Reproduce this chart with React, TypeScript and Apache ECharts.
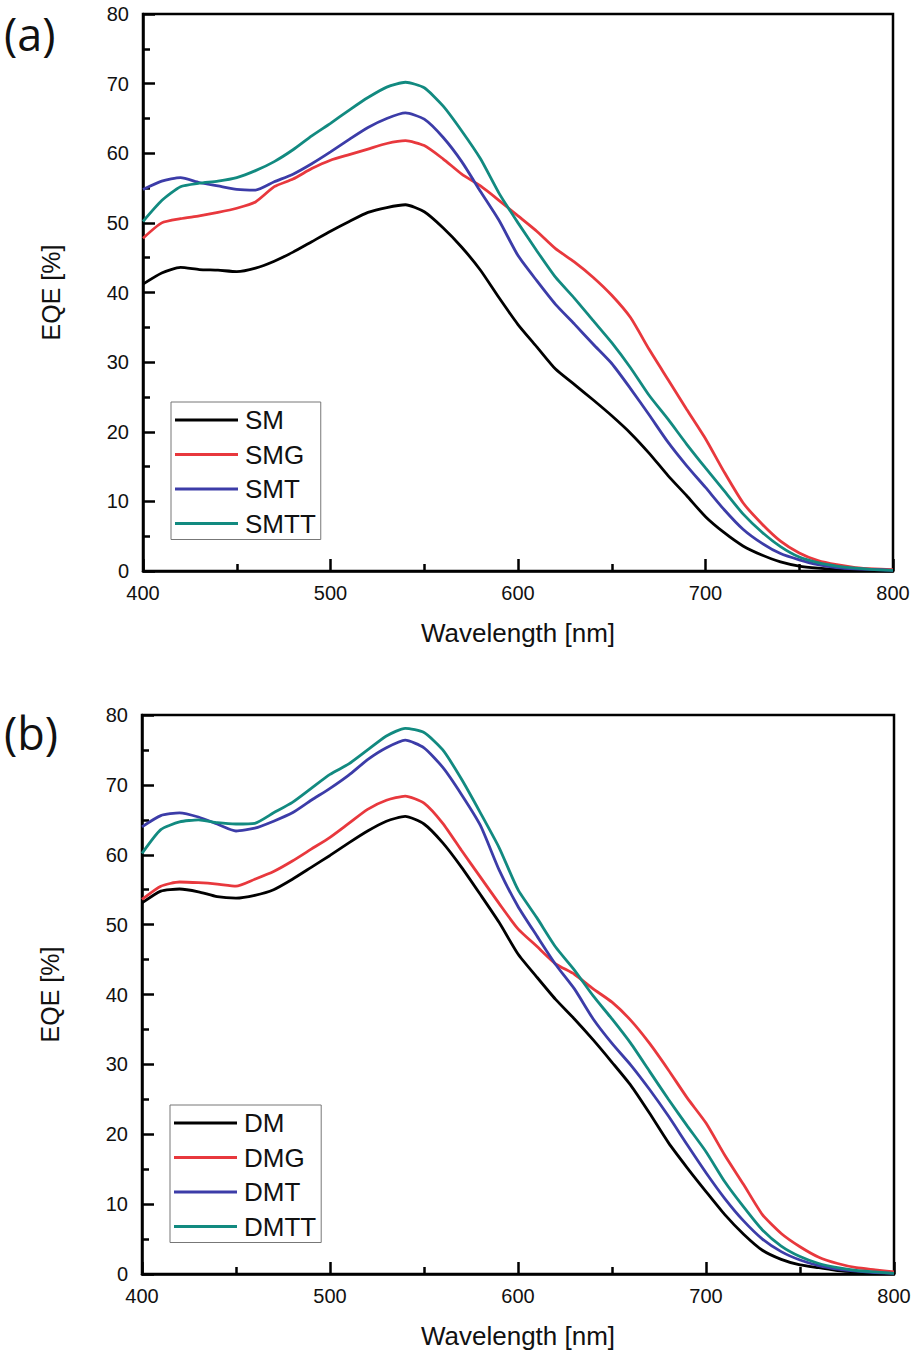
import React, { useEffect, useRef } from "react";
import * as echarts from "echarts";

const wavelengths = [400,410,420,430,440,450,460,470,480,490,500,510,520,530,540,550,560,570,580,590,600,610,620,630,640,650,660,670,680,690,700,710,720,730,740,750,760,770,780,790,800];

const SM = [41.2,42.8,43.6,43.3,43.2,43.0,43.5,44.5,45.8,47.3,48.8,50.2,51.5,52.2,52.6,51.6,49.3,46.5,43.2,39.2,35.4,32.2,29.0,26.8,24.6,22.3,19.8,16.9,13.7,10.8,7.8,5.5,3.6,2.3,1.3,0.7,0.4,0.2,0.1,0.05,0];
const SMG = [47.8,50.0,50.6,51.0,51.5,52.1,53.0,55.2,56.3,57.8,59.0,59.8,60.6,61.4,61.8,61.1,59.2,57.0,55.3,53.2,51.0,48.8,46.3,44.4,42.2,39.6,36.4,31.8,27.5,23.2,19.0,14.2,9.8,6.8,4.3,2.6,1.5,0.9,0.5,0.3,0.2];
const SMT = [54.8,56.0,56.5,55.8,55.3,54.8,54.7,55.9,57.0,58.5,60.2,62.0,63.7,65.0,65.8,64.9,62.3,58.8,54.5,50.3,45.3,41.7,38.3,35.5,32.6,29.8,26.2,22.4,18.5,15.1,12.0,8.8,6.0,4.0,2.5,1.6,0.9,0.5,0.3,0.2,0.1];
const SMTT = [50.2,53.2,55.2,55.7,56.0,56.5,57.5,58.8,60.5,62.5,64.3,66.2,68.0,69.5,70.2,69.4,66.8,63.2,59.2,54.2,50.0,46.0,42.2,39.2,36.0,32.8,29.2,25.2,21.8,18.2,14.8,11.5,8.2,5.6,3.5,2.0,1.2,0.7,0.4,0.2,0.1];

const DM = [53.1,54.8,55.1,54.7,54.0,53.8,54.2,55.0,56.5,58.2,59.9,61.7,63.4,64.8,65.5,64.4,61.7,58.2,54.3,50.3,45.8,42.5,39.3,36.5,33.5,30.3,27.0,23.0,18.8,15.2,11.8,8.5,5.7,3.4,2.1,1.3,0.9,0.5,0.3,0.2,0.1];
const DMG = [53.6,55.5,56.1,56.0,55.8,55.5,56.5,57.6,59.1,60.8,62.5,64.5,66.5,67.8,68.4,67.4,64.5,60.6,56.8,53.0,49.4,46.9,44.4,42.9,40.8,38.9,36.3,33.0,29.2,25.2,21.6,17.0,12.8,8.5,5.8,3.9,2.4,1.5,0.9,0.6,0.3];
const DMT = [64.0,65.6,66.0,65.4,64.4,63.4,63.8,64.8,66.0,67.8,69.5,71.4,73.6,75.3,76.4,75.3,72.5,68.6,64.2,57.8,52.6,48.4,44.3,40.8,36.5,33.0,29.9,26.4,22.6,18.5,14.5,10.8,7.6,5.0,3.2,2.0,1.2,0.7,0.4,0.2,0.1];
const DMTT = [60.2,63.6,64.7,65.0,64.6,64.4,64.5,66.0,67.5,69.5,71.5,73.0,75.0,77.0,78.1,77.5,75.0,70.8,66.0,61.0,55.0,51.0,46.8,43.5,39.8,36.5,33.0,29.0,25.0,21.2,17.5,13.2,9.6,6.3,4.0,2.5,1.5,0.9,0.5,0.3,0.1];

const topNames = ["SM", "SMG", "SMT", "SMTT"];
const bottomNames = ["DM", "DMG", "DMT", "DMTT"];
const colors = ["#000000", "#e8383d", "#3c3ca8", "#128a80"];
const panelLabels = ["(a)", "(b)"];
const xName = "Wavelength [nm]";
const yName = "EQE [%]";

const FONT = "'Liberation Sans', Arial, sans-serif";

function xAxisOpt(gridIndex: number) {
  return {
    type: "value",
    gridIndex,
    min: 400,
    max: 800,
    interval: 100,
    name: xName,
    nameLocation: "middle",
    nameGap: 49,
    nameTextStyle: { fontFamily: FONT, fontSize: 26, color: "#111" },
    axisLine: { show: true, lineStyle: { color: "#000", width: 2.5 } },
    axisTick: { show: true, inside: true, length: 12, lineStyle: { color: "#000", width: 2.5 } },
    minorTick: { show: true, splitNumber: 2, length: 7, lineStyle: { color: "#000", width: 2.5 } },
    axisLabel: { fontFamily: FONT, fontSize: 20, color: "#111", margin: 12 },
    splitLine: { show: false },
  };
}

function yAxisOpt(gridIndex: number) {
  return {
    type: "value",
    gridIndex,
    min: 0,
    max: 80,
    interval: 10,
    name: yName,
    nameLocation: "middle",
    nameGap: 80,
    nameTextStyle: { fontFamily: FONT, fontSize: 25, color: "#111" },
    axisLine: { show: true, lineStyle: { color: "#000", width: 2.5 } },
    axisTick: { show: true, inside: true, length: 12, lineStyle: { color: "#000", width: 2.5 } },
    minorTick: { show: true, splitNumber: 2, length: 7, lineStyle: { color: "#000", width: 2.5 } },
    axisLabel: { fontFamily: FONT, fontSize: 20, color: "#111", margin: 14 },
    splitLine: { show: false },
  };
}

function legendOpt(names: string[], left: number, top: number) {
  return {
    orient: "vertical",
    left,
    top,
    data: names.map((n) => ({ name: n, icon: "rect" })),
    itemWidth: 63,
    itemHeight: 3,
    itemGap: 8.5,
    itemStyle: { borderWidth: 0 },
    textStyle: { fontFamily: FONT, fontSize: 26, color: "#111", lineHeight: 26, padding: [0, 0, 0, 2] },
    borderColor: "#777",
    borderWidth: 1,
    padding: [5, 5, 3, 4],
    backgroundColor: "#fff",
  };
}

export default function App() {
  const ref = useRef<HTMLDivElement>(null);
  useEffect(() => {
    document.body.style.margin = "0";
    const chart = echarts.init(ref.current!, null, { renderer: "svg" });
    const topData = [SM, SMG, SMT, SMTT];
    const bottomData = [DM, DMG, DMT, DMTT];
    const series: any[] = [];
    topNames.forEach((n, i) => {
      series.push({
        name: n,
        type: "line",
        xAxisIndex: 0,
        yAxisIndex: 0,
        data: wavelengths.map((w, k) => [w, topData[i][k]]),
        showSymbol: false,
        smooth: 0.2,
        lineStyle: { color: colors[i], width: 2.8 },
        itemStyle: { color: colors[i] },
        z: 2 + i,
      });
    });
    bottomNames.forEach((n, i) => {
      series.push({
        name: n,
        type: "line",
        xAxisIndex: 1,
        yAxisIndex: 1,
        data: wavelengths.map((w, k) => [w, bottomData[i][k]]),
        showSymbol: false,
        smooth: 0.2,
        lineStyle: { color: colors[i], width: 2.8 },
        itemStyle: { color: colors[i] },
        z: 2 + i,
      });
    });
    chart.setOption({
      animation: false,
      backgroundColor: "#fff",
      grid: [
        { left: 143, top: 14, width: 750, height: 557, show: true, borderColor: "#000", borderWidth: 2.5, backgroundColor: "transparent" },
        { left: 142, top: 715, width: 752, height: 559, show: true, borderColor: "#000", borderWidth: 2.5, backgroundColor: "transparent" },
      ],
      xAxis: [xAxisOpt(0), xAxisOpt(1)],
      yAxis: [yAxisOpt(0), yAxisOpt(1)],
      legend: [legendOpt(topNames, 171, 402), legendOpt(bottomNames, 170, 1105)],
      graphic: [
        { type: "text", left: 4, top: 11, style: { text: panelLabels[0], fontFamily: "'Open Sans', sans-serif", fontSize: 45, fill: "#111" } },
        { type: "text", left: 4, top: 710, style: { text: panelLabels[1], fontFamily: "'Open Sans', sans-serif", fontSize: 45, fill: "#111" } },
      ],
      series,
    });
    return () => chart.dispose();
  }, []);
  return <div ref={ref} style={{ position: "absolute", left: 0, top: 0, width: 915, height: 1359 }} />;
}
